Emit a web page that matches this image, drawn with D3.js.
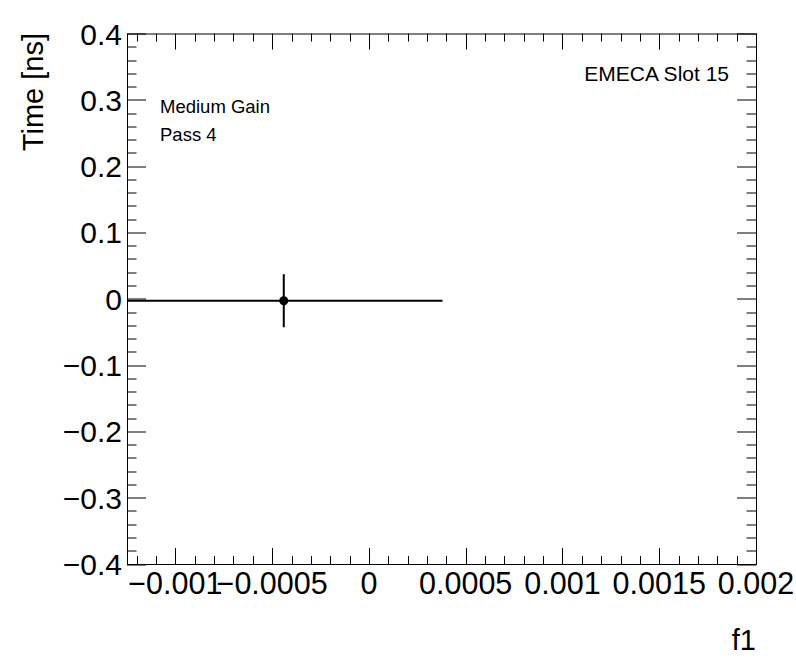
<!DOCTYPE html>
<html>
<head>
<meta charset="utf-8">
<script src="https://cdn.jsdelivr.net/npm/d3@7"></script>
<style>
  body { margin: 0; background: #fff; }
  svg { display: block; }
  text { font-family: "Liberation Sans", Arial, Helvetica, sans-serif; fill: #000; }
</style>
</head>
<body>
<div id="figure"></div>
<script>
// data
var pointX = [-0.00044];
var pointY = [-0.003];
var errX = [0.00082];
var errY = [0.040];
var xTicks = [-0.001, -0.0005, 0, 0.0005, 0.001, 0.0015, 0.002];
var yTicks = [-0.4, -0.3, -0.2, -0.1, 0, 0.1, 0.2, 0.3, 0.4];
var xDomain = [-0.00125, 0.002];
var yDomain = [-0.4, 0.4];
var labels = ["Medium Gain", "Pass 4"];

var W = 796, H = 672;
var margin = {top: 33.5, right: 40, bottom: 108, left: 127};
var width = W - margin.left - margin.right,
    height = H - margin.top - margin.bottom;

var svg = d3.select("#figure").append("svg")
    .attr("width", W)
    .attr("height", H);

var x = d3.scaleLinear().domain(xDomain).range([0, width]);
var y = d3.scaleLinear().domain(yDomain).range([height, 0]);

var g = svg.append("g")
    .attr("transform", "translate(" + margin.left + "," + margin.top + ")");

function fmt(v) {
  if (Math.abs(v) < 1e-12) return "0";
  var s = String(+v.toPrecision(6));
  return s.replace("-", "\u2212");
}

// minor tick values
var xMinor = d3.range(-12, 21).map(function(i) { return i * 0.0001; })
    .filter(function(v) { return v >= xDomain[0] - 1e-12 && v <= xDomain[1] + 1e-12; });
var yMinor = d3.range(-20, 21).map(function(i) { return i * 0.02; });

function isMajor(v, list) {
  return list.some(function(t) { return Math.abs(t - v) < 1e-9; });
}

var ticks = g.append("g").attr("stroke", "#000").attr("stroke-width", 1);

// bottom + top ticks
xMinor.forEach(function(v) {
  var len = isMajor(v, xTicks) ? 16 : 8;
  var px = Math.round(x(v)) + 0.5;
  ticks.append("line").attr("x1", px).attr("x2", px).attr("y1", height).attr("y2", height - len);
  ticks.append("line").attr("x1", px).attr("x2", px).attr("y1", 0).attr("y2", len);
});
// left + right ticks
yMinor.forEach(function(v) {
  var len = isMajor(v, yTicks) ? 19 : 9.5;
  var py = Math.round(y(v)) + 0.5;
  ticks.append("line").attr("x1", 0).attr("x2", len).attr("y1", py).attr("y2", py);
  ticks.append("line").attr("x1", width).attr("x2", width - len).attr("y1", py).attr("y2", py);
});

// frame
g.append("rect")
    .attr("x", 0.5).attr("y", 0.5)
    .attr("width", width).attr("height", height)
    .attr("fill", "none").attr("stroke", "#000").attr("stroke-width", 1);

// tick labels
g.selectAll(".xlab").data(xTicks).enter().append("text")
    .attr("x", function(d) { return x(d); })
    .attr("y", height + 29.5)
    .attr("text-anchor", "middle")
    .style("font-size", "30.5px")
    .text(fmt);

g.selectAll(".ylab").data(yTicks).enter().append("text")
    .attr("x", -5)
    .attr("y", function(d) { return y(d) + 11; })
    .attr("text-anchor", "end")
    .style("font-size", "30px")
    .text(fmt);

// axis titles
svg.append("text")
    .attr("x", margin.left + width)
    .attr("y", 650)
    .attr("text-anchor", "end")
    .style("font-size", "29px")
    .text("f1");

svg.append("text")
    .attr("transform", "translate(43,33) rotate(-90)")
    .attr("text-anchor", "end")
    .style("font-size", "29px")
    .text("Time [ns]");

// annotations
svg.append("text")
    .attr("x", 729).attr("y", 81)
    .attr("text-anchor", "end")
    .style("font-size", "21px")
    .text("EMECA Slot 15");

svg.selectAll(".note").data(labels).enter().append("text")
    .attr("x", 160)
    .attr("y", function(d, i) { return 113 + i * 28; })
    .style("font-size", "18.5px")
    .text(function(d) { return d; });

// data point with error bars, clipped to frame
svg.append("clipPath").attr("id", "frame")
  .append("rect").attr("width", width).attr("height", height);

var pts = g.append("g").attr("clip-path", "url(#frame)");
var data = pointX.map(function(v, i) {
  return {x: v, y: pointY[i], ex: errX[i], ey: errY[i]};
});

pts.selectAll(".ex").data(data).enter().append("line")
    .attr("x1", function(d) { return x(d.x - d.ex); })
    .attr("x2", function(d) { return x(d.x + d.ex); })
    .attr("y1", function(d) { return y(d.y); })
    .attr("y2", function(d) { return y(d.y); })
    .attr("stroke", "#000").attr("stroke-width", 2);

pts.selectAll(".ey").data(data).enter().append("line")
    .attr("x1", function(d) { return x(d.x); })
    .attr("x2", function(d) { return x(d.x); })
    .attr("y1", function(d) { return y(d.y - d.ey); })
    .attr("y2", function(d) { return y(d.y + d.ey); })
    .attr("stroke", "#000").attr("stroke-width", 2);

pts.selectAll("circle").data(data).enter().append("circle")
    .attr("cx", function(d) { return x(d.x); })
    .attr("cy", function(d) { return y(d.y); })
    .attr("r", 4.5)
    .attr("fill", "#000");
</script>
</body>
</html>
